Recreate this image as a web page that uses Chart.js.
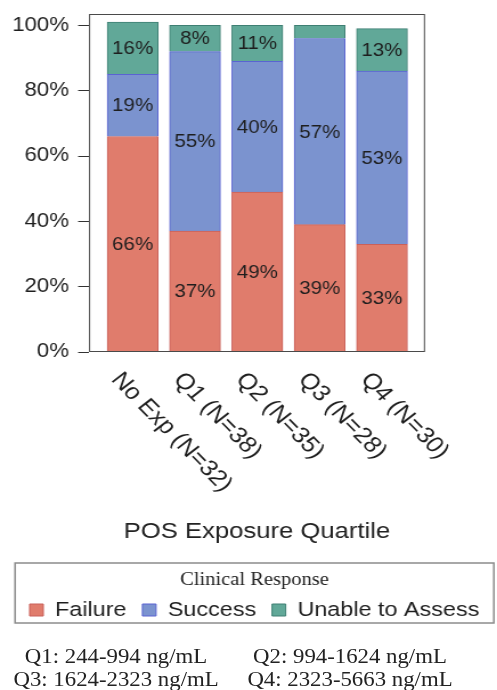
<!DOCTYPE html>
<html>
<head>
<meta charset="utf-8">
<script src="https://cdn.jsdelivr.net/npm/chart.js@4/dist/chart.umd.min.js"></script>
<style>
  html, body { margin: 0; padding: 0; background: #fff; }
  /* figure is laid out at 436px and widened to the 497px page */
  #wrap { position: relative; width: 436px; height: 690px; transform: scaleX(1.14); transform-origin: 0 0; }
  #chart { display: block; }
  .note { position: absolute; font-family: "Liberation Serif", "Times New Roman", serif; font-size: 20px;
          line-height: 20px; color: #222; white-space: nowrap; transform: translateX(-50%); }
</style>
</head>
<body>
<div id="wrap">
  <canvas id="chart" width="436" height="690"></canvas>
  <div class="note" id="n1" style="left:101.8px; top:646px;"></div>
  <div class="note" id="n2" style="left:307px; top:646px;"></div>
  <div class="note" id="n3" style="left:101.8px; top:669px;"></div>
  <div class="note" id="n4" style="left:307px; top:669px;"></div>
</div>
<script>
// Clinical response by POS exposure quartile (percent of patients)
const categories = ['No Exp (N=32)', 'Q1 (N=38)', 'Q2 (N=35)', 'Q3 (N=28)', 'Q4 (N=30)'];
const failure  = [66, 37, 49, 39, 33];
const success  = [19, 55, 40, 57, 53];
const unable   = [16, 8, 11, 4, 13];
const yTicks   = [0, 20, 40, 60, 80, 100];
const quartileNames  = ['Q1', 'Q2', 'Q3', 'Q4'];
const quartileRanges = ['244-994', '994-1624', '1624-2323', '2323-5663'];

const SANS = '"Liberation Sans", Arial, Helvetica, sans-serif';
const SERIF = '"Liberation Serif", "Times New Roman", serif';
const MIN_LABELLED = 6;   // thinner segments stay unlabelled

quartileNames.forEach((q, i) => {
  document.getElementById('n' + (i + 1)).textContent = q + ': ' + quartileRanges[i] + ' ng/mL';
});

const toPoints = arr => arr.map((v, i) => ({ x: i, y: v }));

const decorations = {
  id: 'decorations',
  afterDatasetsDraw(chart) {
    const ctx = chart.ctx;
    ctx.save();
    ctx.font = '18px ' + SANS;
    ctx.fillStyle = '#1e1e1e';
    ctx.textAlign = 'center';
    ctx.textBaseline = 'middle';
    chart.data.datasets.forEach((ds, di) => {
      chart.getDatasetMeta(di).data.forEach((bar, i) => {
        const v = ds.data[i].y;
        if (v < MIN_LABELLED) return;
        ctx.fillText(v + '%', bar.x, (bar.y + bar.base) / 2 + 1);
      });
    });
    ctx.restore();
  },
  afterDraw(chart) {
    const { ctx, chartArea: a, scales: { x } } = chart;
    ctx.save();
    // plot frame
    ctx.strokeStyle = '#4a4a4a';
    ctx.lineWidth = 1;
    ctx.strokeRect(a.left + 0.5, a.top + 0.5, a.right - a.left - 1, a.bottom - a.top - 1);
    // slanted category labels
    ctx.font = '22.5px ' + SANS;
    ctx.fillStyle = '#1e1e1e';
    ctx.textAlign = 'left';
    ctx.textBaseline = 'middle';
    categories.forEach((c, i) => {
      ctx.save();
      ctx.translate(x.getPixelForValue(i) - 15, a.bottom + 24);
      ctx.rotate(49 * Math.PI / 180);
      ctx.fillText(c, 0, 0);
      ctx.restore();
    });
    // legend frame
    const lg = chart.legend;
    ctx.strokeStyle = '#8c8c8c';
    ctx.lineWidth = 1.5;
    ctx.strokeRect(13.2, lg.top, 420, 60);
    ctx.restore();
  }
};

new Chart(document.getElementById('chart'), {
  type: 'bar',
  data: {
    datasets: [
      { label: 'Failure', data: toPoints(failure), backgroundColor: '#E07C6C', borderColor: '#C9605A', borderWidth: 1 },
      { label: 'Success', data: toPoints(success), backgroundColor: '#7B93CF', borderColor: '#5A63D2', borderWidth: 1 },
      { label: 'Unable to Assess', data: toPoints(unable), backgroundColor: '#61A898', borderColor: '#3E7F73', borderWidth: 1 }
    ]
  },
  options: {
    responsive: false,
    devicePixelRatio: 1,
    animation: false,
    layout: { padding: { left: 10.4, right: 0, top: 14, bottom: 59.75 } },
    datasets: { bar: { barThickness: 44.7 } },
    scales: {
      x: {
        type: 'linear',
        stacked: true,
        offset: false,
        min: -0.7,
        max: 4.69,
        grid: { display: false },
        border: { display: false },
        ticks: { display: false },
        title: {
          display: true,
          text: 'POS Exposure Quartile',
          color: '#222',
          font: { family: SANS, size: 22.5 },
          padding: { top: 0, bottom: 17.5 }
        },
        afterFit(s) { s.height = 211; s.paddingLeft = 0; s.paddingRight = 0; }
      },
      y: {
        stacked: true,
        min: 0,
        max: 103.5,
        afterBuildTicks(s) { s.ticks = yTicks.map(v => ({ value: v })); },
        ticks: {
          color: '#1e1e1e',
          padding: 8,
          font: { family: SANS, size: 19.5 },
          callback: v => v + '%'
        },
        grid: { drawOnChartArea: false, drawTicks: true, tickLength: 9.6, color: '#333', lineWidth: 1 },
        border: { display: false },
        afterFit(s) { s.width = 67.7; s.paddingTop = 0; s.paddingBottom = 0; }
      },
      yR: {
        type: 'linear',
        position: 'right',
        display: true,
        grid: { display: false },
        border: { display: false },
        ticks: { display: false },
        afterFit(s) { s.width = 63.2; s.paddingTop = 0; s.paddingBottom = 0; }
      }
    },
    plugins: {
      tooltip: { enabled: false },
      legend: {
        position: 'bottom',
        title: {
          display: true,
          text: 'Clinical Response',
          color: '#222',
          font: { family: SERIF, size: 18, lineHeight: 1 },
          padding: { top: 8, bottom: -3.25 }
        },
        labels: {
          boxWidth: 12,
          boxHeight: 12,
          padding: 14,
          color: '#1e1e1e',
          font: { family: SANS, size: 20.5 }
        }
      }
    }
  },
  plugins: [decorations]
});
</script>
</body>
</html>
